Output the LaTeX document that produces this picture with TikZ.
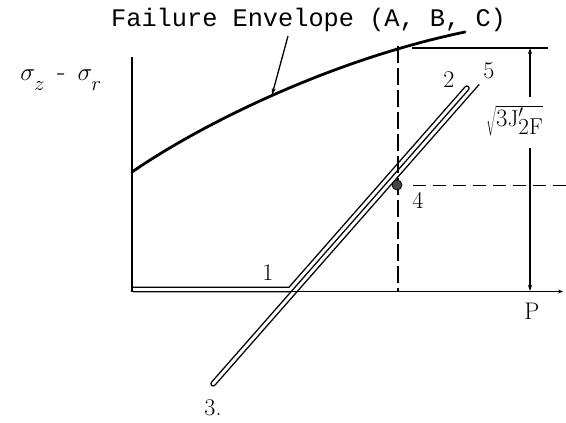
\documentclass[tikz,border=0pt]{standalone}
\usepackage{fontspec}
\newfontfamily\titlefont{Liberation Mono}
\usetikzlibrary{arrows.meta,calc}
\begin{document}
\begin{tikzpicture}[x=1pt,y=-1pt,
  lbl/.style={inner sep=0pt, font=\fontsize{24}{24}\selectfont},
  tube/.style={line width=1.25pt, line join=round},
  axisline/.style={line width=1.9pt},
  dimarrow/.style={line width=1.3pt, -{Stealth[length=6pt,width=4pt]}},
  envelope/.style={line width=2.8pt, line cap=round}]
\useasboundingbox (0,0) rectangle (566,423);

% title and leader
\node[anchor=base west, inner sep=0pt, font=\titlefont\fontsize{25.3}{25.3}\selectfont] (title) at (111,27) {Failure Envelope (A, B, C)};
\coordinate (ldtop) at (288,36);
\coordinate (ldtip) at (272,95);
\draw[line width=1.3pt, -{Stealth[length=7pt,width=4pt]}] (ldtop) -- (ldtip);

% axes
\coordinate (ytop) at (132,57);
\coordinate (ybot) at (132,292.3);
\coordinate (orig) at (132,291.5);
\coordinate (xend) at (563,291.5);
\draw[axisline] (ytop) -- (ybot);
\draw[line width=1.4pt, -{Stealth[length=5pt,width=4pt]}] (orig) -- (xend);

% axis label
\node[inner sep=0pt, font=\fontsize{28}{28}\selectfont] (sig) at (61,80)
  {$\sigma_{\raisebox{-6pt}{$\scriptstyle z$}}\hskip12pt\mbox{-}\hskip12pt\sigma_{\raisebox{-6pt}{$\scriptstyle r$}}$};

% failure envelope
\coordinate (c0) at (132,172);
\coordinate (c1) at (465,32);
\draw[envelope] (c0) .. controls (200,125) and (330,60) .. (c1);

% dashed verticals / horizontals
\coordinate (dvtop) at (398,46);
\coordinate (dvbot) at (398,291);
\draw[line width=1.8pt, dash pattern=on 17pt off 5pt] (dvtop) -- (dvbot);
\coordinate (tl0) at (412,48);
\coordinate (tl1) at (548,48);
\draw[line width=1.1pt] (tl0) -- (tl1);
\coordinate (dh0) at (413,185);
\coordinate (dh1) at (566,185);
\draw[line width=0.9pt, dash pattern=on 13pt off 7pt] (dh0) -- (dh1);

% dimension arrows
\coordinate (dimtop) at (530,48);
\coordinate (dimu) at (530,97);
\coordinate (diml) at (530,148);
\coordinate (dimbot) at (530,291);
\draw[dimarrow] (dimu) -- (dimtop);
\draw[dimarrow] (diml) -- (dimbot);
\node[anchor=base west, inner sep=0pt, font=\fontsize{23}{23}\selectfont] (jlab) at (486,126) {$\sqrt{3\mathrm{J}'_{\textstyle\mathrm{2F}}}$};

% load paths (tubes)
\coordinate (hL) at (133,287.25);
\coordinate (hM) at (133,291.75);
\begin{scope}[shift={(290,289.5)}, x={(0.660pt,0.751pt)}, y={(-0.751pt,0.660pt)}]
  \coordinate (Lb) at (1.02,2.25);
  \coordinate (Lt) at (268,2.25);
  \coordinate (Mb) at (-1.02,-2.25);
  \coordinate (Mbot) at (-121.5,-2.25);
  \coordinate (Rtop) at (279,-6.75);
  \draw[tube] (hL) -- (Lb) -- (Lt) arc[start angle=90, end angle=-90, radius=2.25]
     -- (Mbot) arc[start angle=90, end angle=270, radius=2.25] -- (Rtop);
  \draw[tube] (hM) -- (Mb);
\end{scope}

% point 4
\node[circle, fill=gray!55!black, draw=black, line width=0.8pt, minimum size=10pt, inner sep=0pt] (p4) at (397,185) {};

% labels
\node[lbl] (n1) at (268,273) {1};
\node[lbl] (n2) at (449,80) {2};
\node[lbl] (n5) at (489,71) {5};
\node[lbl] (n3) at (213,408) {3.};
\node[lbl] (n4) at (418,200) {4};
\node[lbl] (nP) at (532,311) {P};
\end{tikzpicture}
\end{document}
